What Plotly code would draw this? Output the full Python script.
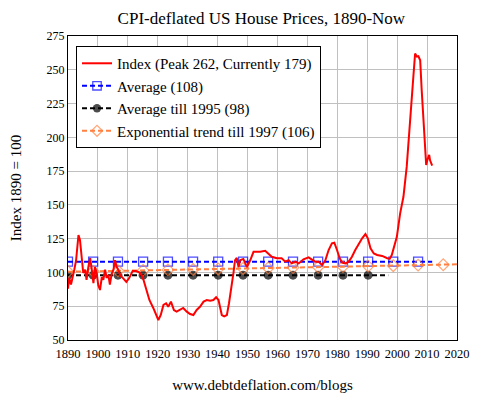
import plotly.graph_objects as go

# ---- data ----
index_years = [1890.0, 1890.4, 1891.0, 1891.6, 1892.1, 1892.7, 1893.5, 1894.0, 1894.6, 1895.1,
               1895.7, 1896.2, 1896.8, 1897.4, 1897.9, 1898.5, 1899.0, 1899.6, 1900.1, 1900.7,
               1901.3, 1901.8, 1902.4, 1902.9, 1903.5, 1904.0, 1904.6, 1905.2, 1905.7, 1906.3,
               1906.8, 1907.4, 1908.3, 1909.5, 1910.5, 1911.6, 1912.7, 1913.8, 1914.9, 1916.0,
               1916.6, 1917.2, 1918.5, 1919.6, 1920.2, 1921.0, 1921.9, 1922.8, 1923.5, 1924.4,
               1925.4, 1926.3, 1927.4, 1928.5, 1929.7, 1930.8, 1931.9, 1933.0, 1934.1, 1935.3,
               1936.4, 1937.5, 1938.6, 1939.5, 1940.3, 1940.8, 1941.4, 1942.2, 1943.1, 1943.8,
               1944.5, 1945.3, 1945.8, 1946.4, 1947.0, 1947.5, 1948.6, 1949.8, 1950.9, 1952.0,
               1953.1, 1954.2, 1955.9, 1957.0, 1958.1, 1959.8, 1961.4, 1962.6, 1963.7, 1964.8,
               1965.9, 1967.1, 1968.7, 1970.4, 1971.5, 1972.6, 1973.7, 1974.9, 1976.0, 1977.1,
               1978.2, 1979.0, 1979.9, 1980.8, 1981.6, 1982.7, 1983.8, 1984.9, 1986.0, 1987.2,
               1988.3, 1989.4, 1990.2, 1991.1, 1992.2, 1993.3, 1995.0, 1996.7, 1997.5, 1998.2,
               1999.9, 2001.0, 2002.1, 2003.2, 2003.8, 2004.3, 2004.9, 2005.5, 2006.0, 2006.6,
               2007.1, 2007.7, 2008.2, 2008.8, 2009.3, 2009.7, 2010.1, 2010.7, 2011.0, 2011.7]
index_values = [88, 96, 91, 96, 102, 109, 127.7, 124, 109, 99.6,
                102, 94.6, 104, 110.6, 103, 92, 104, 99.6, 90.7, 87,
                96.6, 94.6, 102, 96, 98, 91, 99, 102, 109, 104,
                102, 98, 96, 93, 96, 101, 101, 100, 97, 89,
                84.8, 79.6, 73.7, 67, 64.8, 68.5, 76, 77.2, 74.6, 78.4,
                72.2, 71, 72.2, 73.7, 71, 69.2, 68.5, 72.2, 74.6, 78.4,
                79.6, 79.1, 79.6, 81.6, 79.6, 74.6, 68.5, 67.5, 68.5, 77.2,
                87, 99.6, 109, 110.7, 104, 109, 110, 104, 109, 115.3,
                115.3, 115.3, 116, 114, 111.6, 110.5, 110.5, 108, 109, 106.7,
                108, 106.7, 109.7, 111.2, 109.7, 108, 108, 105.5, 109, 116.6,
                121.5, 122, 116.6, 110.5, 107.3, 106.7, 108, 111.6, 116.6, 121.5,
                125.3, 128.4, 125.3, 117.9, 114, 112.9, 112.2, 110.5, 110, 112.9,
                126.4, 143.7, 156, 178.3, 198, 215.3, 230, 247.4, 262, 259.7,
                260, 257, 235, 210.4, 190.6, 179.5, 183.2, 187, 183, 179]

marker_years = [1890, 1898.4, 1906.7, 1915.1, 1923.4, 1931.8, 1940.2, 1948.5,
                1956.9, 1965.2, 1973.6, 1981.9, 1990.3, 1998.7, 2007.0, 2015.4]

average_all = 108
average_all_end = 2011.7
average_1995 = 98
average_1995_end = 1997

trend_years = marker_years + [2020]
trend_values = [100.5, 100.8, 101.2, 101.5, 101.9, 102.2, 102.6, 102.9,
                103.3, 103.6, 104.0, 104.3, 104.7, 105.0, 105.4, 105.7, 106.0]

names = ["Index (Peak 262, Currently 179)", "Average (108)",
         "Average till 1995 (98)", "Exponential trend till 1997 (106)"]

x_ticks = list(range(1890, 2021, 10))
y_ticks = list(range(50, 276, 25))

FONT = "Liberation Serif"


def const_series(value, end):
    xs = [m for m in marker_years if m <= end] + [end]
    sizes = [9] * (len(xs) - 1) + [0]
    return xs, [value] * len(xs), sizes


fig = go.Figure()

ax, ay, asz = const_series(average_all, average_all_end)
fig.add_trace(go.Scatter(x=ax, y=ay, mode="lines+markers", name=names[1], legendrank=2,
                         line=dict(color="#0000FF", width=2, dash="5px,3px"),
                         marker=dict(symbol="square-open", size=asz, color="#0000FF",
                                     line=dict(width=1.3, color="#0000FF"))))

bx, by, bsz = const_series(average_1995, average_1995_end)
fig.add_trace(go.Scatter(x=bx, y=by, mode="lines+markers", name=names[2], legendrank=3,
                         line=dict(color="#000000", width=2, dash="5px,3px"),
                         marker=dict(symbol="circle", size=bsz, color="#000000",
                                     line=dict(width=0))))

tsz = [9] * len(marker_years) + [0]
fig.add_trace(go.Scatter(x=trend_years, y=trend_values, mode="lines+markers", name=names[3],
                         legendrank=4,
                         line=dict(color="#FF8040", width=2, dash="5px,3px"),
                         marker=dict(symbol="diamond-open", size=tsz, color="#FF8040",
                                     line=dict(width=1.2, color="#FF8040"))))

fig.add_trace(go.Scatter(x=index_years, y=index_values, mode="lines", name=names[0],
                         legendrank=1, line=dict(color="#FF0000", width=2)))

# the page body adds an 8px offset, so the figure is sized/margined to compensate
fig.update_layout(
    width=471, height=385,
    margin=dict(l=60, r=22, t=28, b=53),
    paper_bgcolor="white", plot_bgcolor="white",
    font=dict(family=FONT, color="black", size=12),
    title=dict(text="CPI-deflated US House Prices, 1890-Now", x=0.538, xanchor="center",
               y=0.974, yanchor="middle", font=dict(size=17, family=FONT)),
    showlegend=True,
    legend=dict(x=0.0206, y=0.967, xanchor="left", yanchor="top",
                bordercolor="black", borderwidth=1, bgcolor="white",
                font=dict(size=15, family=FONT), itemwidth=30,
                tracegroupgap=0),
    xaxis=dict(range=[1890, 2020], tickvals=x_ticks, showgrid=True, gridcolor="#C0C0C0",
               gridwidth=1, showline=True, linecolor="black", linewidth=1, mirror=True,
               ticks="", zeroline=False, tickfont=dict(size=12.5, family=FONT),
               automargin=False, ticklabelstandoff=2,
               title=dict(text="www.debtdeflation.com/blogs", font=dict(size=15, family=FONT),
                          standoff=22)),
    yaxis=dict(range=[50, 275], tickvals=y_ticks, showgrid=True, gridcolor="#C0C0C0",
               gridwidth=1, showline=True, linecolor="black", linewidth=1, mirror=True,
               ticks="", zeroline=False, tickfont=dict(size=12, family=FONT),
               automargin=False,
               title=dict(text="Index 1890 = 100", font=dict(size=15, family=FONT),
                          standoff=24)),
)

fig.write_html("out.html")
